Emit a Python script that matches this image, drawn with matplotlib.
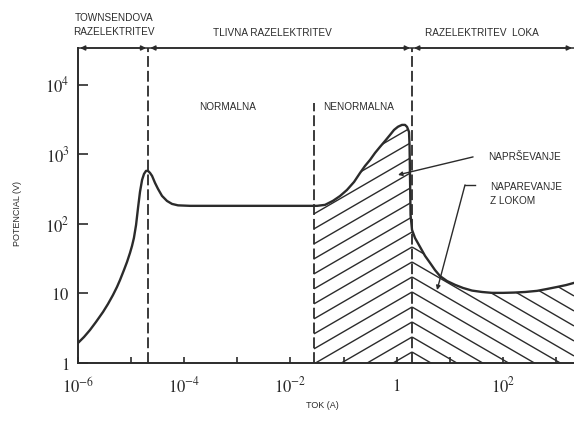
import numpy as np
import matplotlib
matplotlib.use('Agg')
import matplotlib.pyplot as plt
from matplotlib.patches import Polygon
from matplotlib.collections import LineCollection

plt.rcParams['mathtext.fontset'] = 'stix'

# ---- data ----
current = [1.0e-6, 1.30e-6, 1.68e-6, 2.18e-6, 2.96e-6, 3.67e-6, 4.56e-6, 5.42e-6, 6.18e-6, 7.35e-6,
           8.38e-6, 9.53e-6, 1.04e-5, 1.13e-5, 1.24e-5, 1.35e-5, 1.47e-5, 1.61e-5, 1.75e-5, 1.91e-5,
           2.08e-5, 2.27e-5, 2.48e-5, 2.82e-5, 3.21e-5, 3.82e-5, 4.74e-5, 5.89e-5, 7.64e-5, 1.29e-4,
           3.17e-2, 4.49e-2, 6.34e-2, 8.59e-2, 0.116, 0.158, 0.205, 0.254, 0.316, 0.392,
           0.486, 0.605, 0.752, 0.894, 1.06, 1.26, 1.44, 1.57, 1.71, 1.75,
           1.79, 1.83, 1.95, 2.22, 2.76, 3.43, 4.26, 5.28, 6.56, 8.89,
           12.6, 17.8, 26.3, 40.6, 62.6, 101, 163, 262, 441, 679,
           1050, 1550, 2190]
potential = [1.94, 2.37, 2.98, 3.89, 5.42, 7.06, 9.51, 12.4, 15.6, 21.8,
             28.4, 38.3, 48.2, 62.9, 96.8, 170, 289, 430, 524, 579,
             579, 542, 491, 389, 319, 253, 214, 194, 185, 182,
             182, 188, 215, 252, 308, 402, 542, 683, 834, 1050,
             1282, 1560, 1909, 2250, 2499, 2656, 2656, 2488, 2107, 1374,
             430, 134, 82, 62.8, 46.7, 34.7, 27.5, 21.7, 17.8, 15.1,
             13.3, 12.0, 11.0, 10.5, 10.2, 10.2, 10.3, 10.5, 10.9, 11.6,
             12.4, 13.2, 14.2]

region_bounds = [2.1e-5, 0.0278, 1.95]   # dashed separators
x_ticks = [1e-6, 1e-5, 1e-4, 1e-3, 1e-2, 1e-1, 1, 10, 1e2, 1e3]
x_ticklabels = [r'$10^{-6}$', '', r'$10^{-4}$', '', r'$10^{-2}$', '', r'$1$', '', r'$10^{2}$', '']
y_ticks = [1, 10, 1e2, 1e3, 1e4]
y_ticklabels = [r'$1$', r'$10$', r'$10^{2}$', r'$10^{3}$', r'$10^{4}$']

XMIN, XMAX = 1e-6, 10 ** 3.34
YMIN, YMAX = 1, 10 ** 4.53

INK = '#2b2b2b'
SANS = 'Liberation Sans'

W, H = 574, 421
fig = plt.figure(figsize=(W / 100, H / 100), dpi=100)
AXL, AXR, AXB, AXT = 78, 574, 363, 48
ax = fig.add_axes([AXL / W, 1 - AXB / H, (AXR - AXL) / W, (AXB - AXT) / H])
AX_W, AX_H = AXR - AXL, AXB - AXT

ax.set_xscale('log')
ax.set_yscale('log')
ax.set_xlim(XMIN, XMAX)
ax.set_ylim(YMIN, YMAX)
ax.minorticks_off()

for s in ['top', 'right']:
    ax.spines[s].set_visible(False)
for s in ['left', 'bottom']:
    ax.spines[s].set_linewidth(1.4)
    ax.spines[s].set_color(INK)

ax.set_xticks(x_ticks)
ax.set_xticklabels(x_ticklabels)
ax.set_yticks(y_ticks)
ax.set_yticklabels(y_ticklabels)
ax.tick_params(axis='x', direction='in', length=4.5, width=1.2, color=INK,
               labelsize=12, pad=10, labelcolor=INK)
ax.tick_params(axis='y', direction='in', length=7.5, width=1.2, color=INK,
               labelsize=12, pad=6, labelcolor=INK)

# main curve
ax.plot(current, potential, color=INK, lw=1.7, solid_joinstyle='round',
        solid_capstyle='round', zorder=5)

# dashed separators
dash = (0, (6.0, 2.2))
ax.axvline(region_bounds[0], color=INK, lw=1.3, ls=dash, zorder=4)
ax.vlines(region_bounds[1], YMIN, 10 ** 3.74, color=INK, lw=1.3, ls=dash, zorder=4)
ax.axvline(region_bounds[2], color=INK, lw=1.3, ls=dash, zorder=4)

# area under curve used as clip for hatching
verts = [(current[0], YMIN)] + list(zip(current, potential)) + [(current[-1], YMIN)]
under = Polygon(verts, closed=True, transform=ax.transData,
                facecolor='none', edgecolor='none')
ax.add_patch(under)

lx0, lx1 = np.log10(XMIN), np.log10(XMAX)
def fx(x):
    return (np.log10(x) - lx0) / (lx1 - lx0)

p2 = fx(region_bounds[1]) * AX_W
p3 = fx(region_bounds[2]) * AX_W
slope = 0.58
spacing = 15.0
segs = []
for k in range(-2, 40):
    y0 = 11 + spacing * k
    segs.append([(p2 / AX_W, (y0 - slope * (p3 - p2)) / AX_H), (p3 / AX_W, y0 / AX_H)])
    segs.append([(p3 / AX_W, y0 / AX_H), (1.0, (y0 - slope * (AX_W - p3)) / AX_H)])
lc = LineCollection(segs, colors=INK, linewidths=1.0, transform=ax.transAxes, zorder=3)
lc.set_clip_path(under)
ax.add_collection(lc)

# top region arrows
arrow_kw = dict(arrowstyle='<|-|>', color=INK, lw=1.1, mutation_scale=7,
                shrinkA=1.5, shrinkB=1.5)
edges = [XMIN, region_bounds[0], region_bounds[2], XMAX]
for a, b in zip(edges[:-1], edges[1:]):
    ax.annotate('', xy=(b, 1), xytext=(a, 1), xycoords=('data', 'axes fraction'),
                textcoords=('data', 'axes fraction'), arrowprops=arrow_kw,
                annotation_clip=False)
ax.plot([0, 1], [1, 1], transform=ax.transAxes, color=INK, lw=1.1, clip_on=False)

def ftext(px, py, s, **kw):
    kw.setdefault('ha', 'center')
    kw.setdefault('va', 'center')
    kw.setdefault('fontsize', 7.2)
    kw.setdefault('family', SANS)
    kw.setdefault('color', INK)
    fig.text(px / W, 1 - py / H, s, **kw)

ftext(114, 25, 'TOWNSENDOVA\nRAZELEKTRITEV', linespacing=1.45)
ftext(272, 33, 'TLIVNA RAZELEKTRITEV')
ftext(482, 33, 'RAZELEKTRITEV  LOKA')
ftext(228, 107, 'NORMALNA')
ftext(359, 107, 'NENORMALNA')
ftext(18, 213, 'POTENCIAL (V)', rotation=90, fontsize=6.5)
ftext(322, 405, 'TOK (A)', fontsize=6.5)
ftext(488, 157, 'NAPRŠEVANJE', ha='left')
ftext(490, 194, 'NAPAREVANJE\nZ LOKOM', ha='left', linespacing=1.45)

# leader lines
lead_kw = dict(arrowstyle='-|>', color=INK, lw=1.0, mutation_scale=6, shrinkA=0, shrinkB=0)
ax.annotate('', xy=(1.06, 507), xytext=(27.5, 920), arrowprops=lead_kw)
ax.plot([29.9, 19.4], [364, 364], color=INK, lw=1.0)
ax.annotate('', xy=(5.77, 11.2), xytext=(19.4, 364), arrowprops=lead_kw)

fig.savefig('out.png', dpi=100)
